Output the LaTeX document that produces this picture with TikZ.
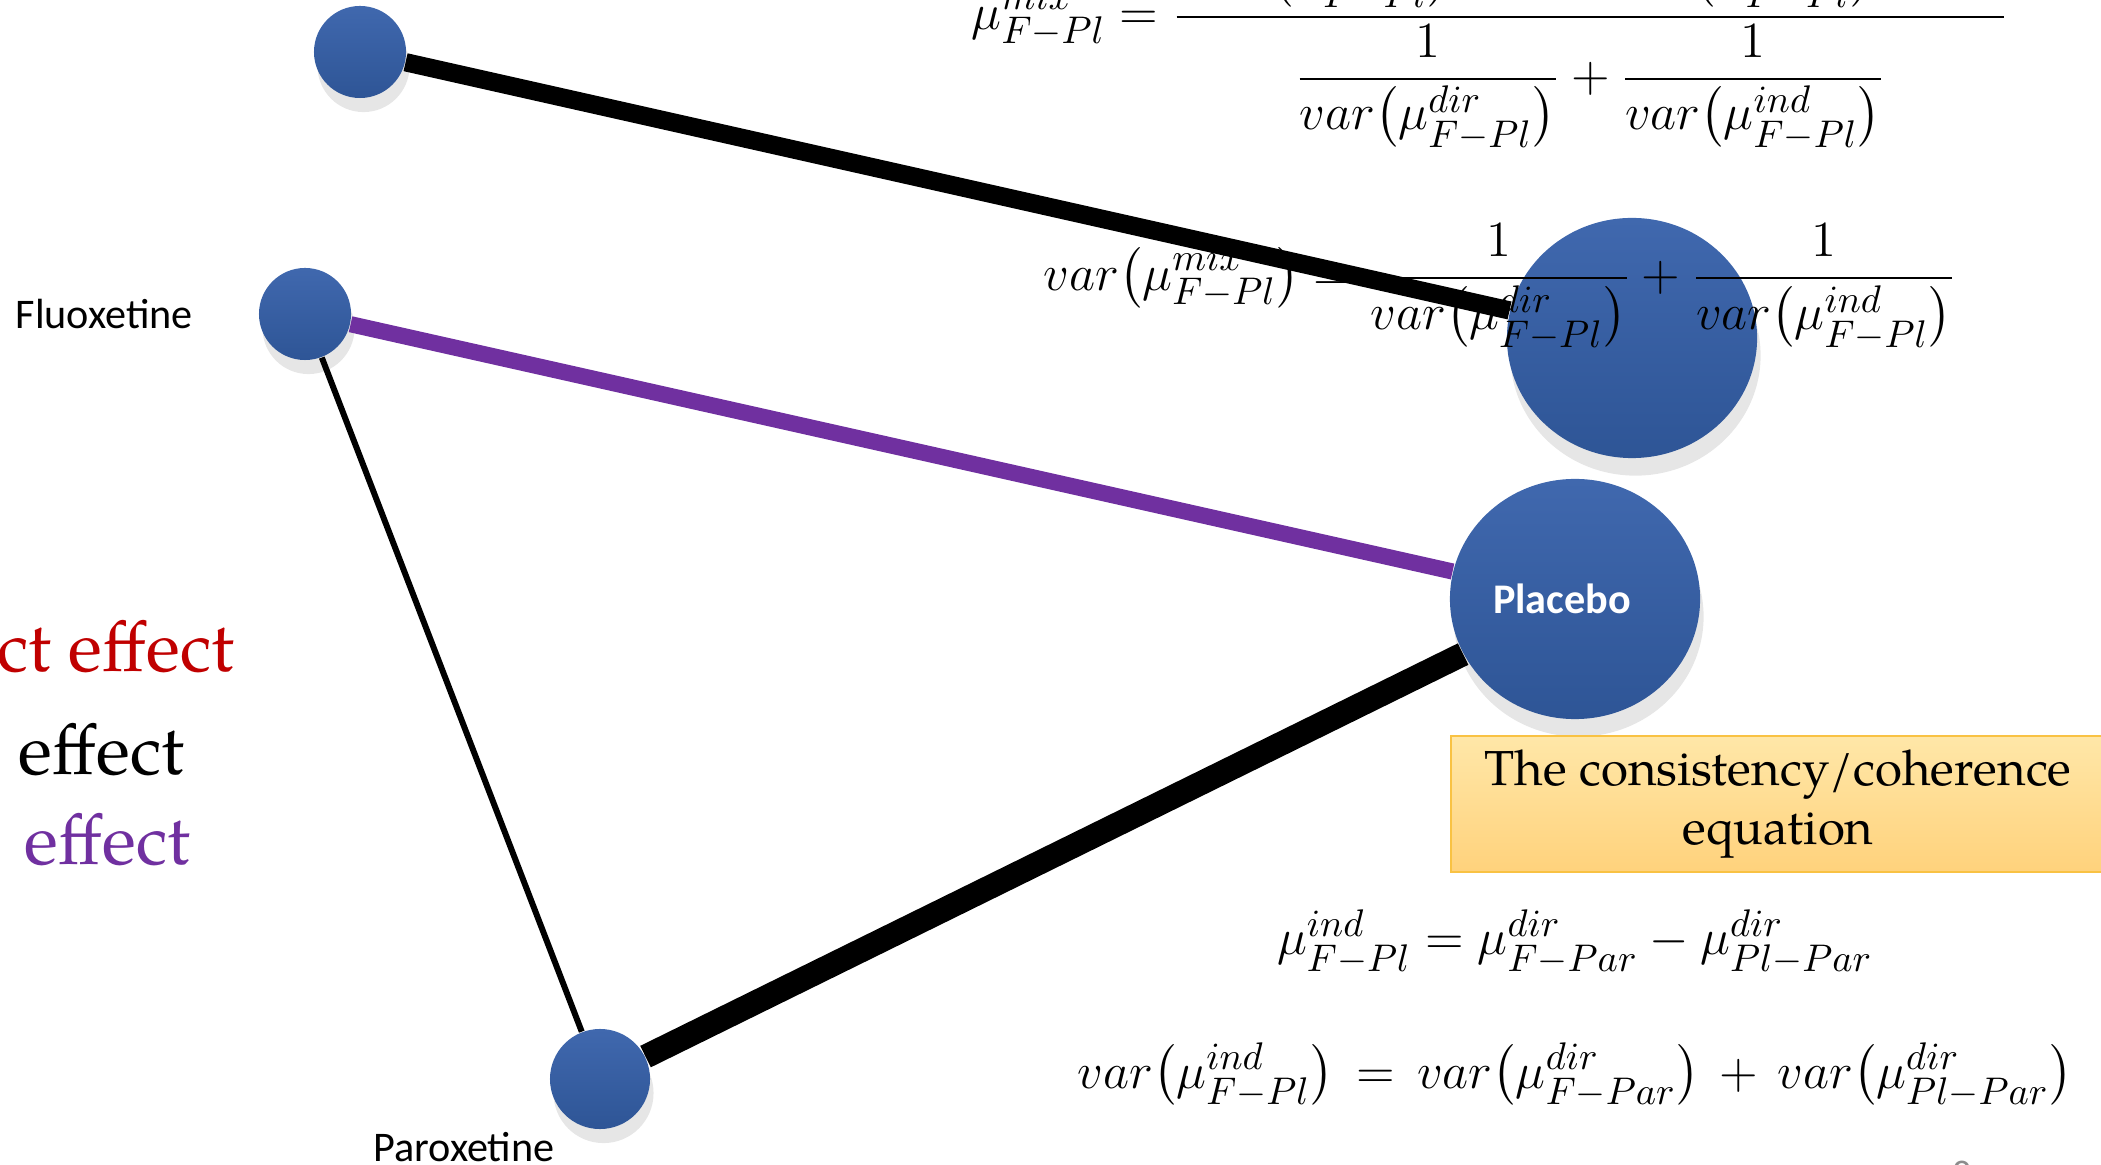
\documentclass[tikz,border=0pt]{standalone}
\usepackage{amsmath}
\usepackage{fontspec}
\newfontfamily\calibri{Carlito}
\newfontfamily\antiqua{texgyrepagella-regular.otf}
\usetikzlibrary{shadows,shapes.geometric}

\definecolor{ballblue}{HTML}{2E5596}
\definecolor{balltop}{HTML}{4068AE}
\definecolor{mixpurple}{HTML}{7030A0}
\definecolor{dirred}{HTML}{C00000}
\definecolor{boxtop}{HTML}{FFE7A8}
\definecolor{boxbottom}{HTML}{FFD27C}
\definecolor{boxline}{HTML}{F9C243}

% variance of an effect, parentheses hugging
\newcommand\varof[1]{var\mathopen{}\left(#1\right)\mathclose{}}

\begin{document}
\begin{tikzpicture}[x=0.01cm,y=-0.01cm,
  drug/.style={circle, inner sep=0pt, top color=balltop, bottom color=ballblue,
    drop shadow={shadow xshift=1pt, shadow yshift=-4pt, opacity=0.2}},
  bigdrug/.style={ellipse, inner sep=0pt, minimum width=2.5cm, minimum height=2.4cm,
    top color=balltop, bottom color=ballblue,
    drop shadow={shadow xshift=1pt, shadow yshift=-5pt, opacity=0.2}},
  drugname/.style={font=\calibri\fontsize{12}{14}\selectfont, inner sep=0pt},
  eq/.style={font=\fontsize{15.5}{18}\selectfont, inner sep=0pt},
  legend/.style={font=\antiqua\fontsize{20}{24}\selectfont, anchor=base east, inner sep=0pt},
]
\useasboundingbox (0,0) rectangle (2101,1165);
\clip (0,0) rectangle (2101,1165);

% treatments
\node[drug, minimum size=0.92cm] (copyF) at (360, 52) {};
\node[drug, minimum size=0.92cm] (fluox) at (305, 314) {};
\node[drug, minimum size=1.0cm] (parox) at (600, 1079) {};
\node[bigdrug] (copyP) at (1632, 338) {};
\node[bigdrug, text=white, font=\calibri\bfseries\fontsize{12}{14}\selectfont] (placebo) at (1575, 599) {\hspace*{-0.26cm}Placebo};

\node[drugname, anchor=west] (fluoxname) at (15, 314) {Fluoxetine};
\node[drugname] (paroxname) at (464, 1147) {Paroxetine};

% legend
\node[legend, text=dirred] (lgdir) at (235, 672) {ct effect};
\node[legend] (lgind) at (185, 775) {effect};
\node[legend, text=mixpurple] (lgmix) at (191, 864) {effect};

% equations
\node[eq, anchor=base west] (eqmix) at (971, 30)
  {$\displaystyle \mu^{mix}_{F-Pl}=\frac{\hspace{4pt}\dfrac{\mu^{dir}_{F-Pl}}{\varof{\mu^{dir}_{F-Pl}}}\hspace{17pt}{+}\hspace{17pt}\dfrac{\mu^{ind}_{F-Pl}}{\varof{\mu^{ind}_{F-Pl}}}\hspace{36pt}}{\dfrac{1}{\varof{\mu^{dir}_{F-Pl}}}+\dfrac{1}{\varof{\mu^{ind}_{F-Pl}}}}$};
\node[eq, anchor=base west] (eqvarmix) at (1043, 291)
  {$\displaystyle \varof{\mu^{mix}_{F-Pl}}=\frac{1}{\varof{\mu^{dir}_{F-Pl}}}+\frac{1}{\varof{\mu^{ind}_{F-Pl}}}$};
\node[eq, anchor=base] (eqind) at (1575, 955)
  {$\mu^{ind}_{F-Pl}=\mu^{dir}_{F-Par}-\mu^{dir}_{Pl-Par}$};
\node[eq, anchor=base] (eqvarind) at (1575, 1088)
  {$\varof{\mu^{ind}_{F-Pl}}\mkern3mu=\mkern3mu\varof{\mu^{dir}_{F-Par}}\mkern3mu+\mkern3mu\varof{\mu^{dir}_{Pl-Par}}$};

\node[draw=boxline, line width=0.6pt, top color=boxtop, bottom color=boxbottom,
  minimum width=6.54cm, minimum height=1.36cm, align=center,
  font=\antiqua\fontsize{14}{17}\selectfont] (consbox) at (1778, 804)
  {The consistency/coherence\\equation};

\node[font=\calibri\fontsize{11}{13}\selectfont, text=black!45, anchor=north] (pagenum) at (1962, 1149) {8};

% comparisons
\draw[line width=5.2pt] (copyF) -- (copyP);
\draw[line width=4.6pt, mixpurple] (fluox) -- (placebo);
\draw[line width=1.7pt] (fluox) -- (parox);
\draw[line width=6.8pt] (parox) -- (placebo);
\end{tikzpicture}
\end{document}
